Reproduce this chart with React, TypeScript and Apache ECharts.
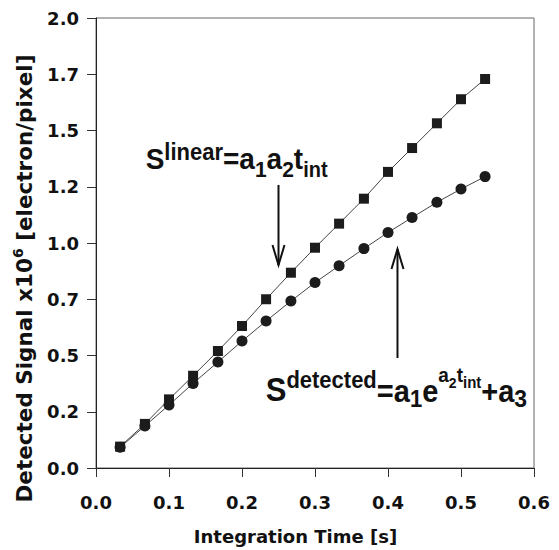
import React, { useEffect, useRef } from "react";
import * as echarts from "echarts";

// ---- data ----
const integrationTime = [0.033, 0.067, 0.1, 0.133, 0.167, 0.2, 0.233, 0.267, 0.3, 0.333, 0.367, 0.4, 0.433, 0.467, 0.5, 0.533];
const linearSignal = [0.095, 0.196, 0.305, 0.41, 0.52, 0.631, 0.75, 0.868, 0.979, 1.086, 1.197, 1.316, 1.422, 1.532, 1.639, 1.729];
const detectedSignal = [0.092, 0.187, 0.28, 0.376, 0.471, 0.564, 0.653, 0.742, 0.824, 0.899, 0.975, 1.047, 1.113, 1.181, 1.24, 1.295];
const xTickLabels = ["0.0", "0.1", "0.2", "0.3", "0.4", "0.5", "0.6"];
const yTickLabels = ["0.0", "0.2", "0.5", "0.7", "1.0", "1.2", "1.5", "1.7", "2.0"];
const xTitle = "Integration Time [s]";
const yTitleParts = ["Detected Signal x10", "6", " [electron/pixel]"];

type Piece = { t: string; size: number; dy?: number };

// annotation formulas (text pieces: size and baseline shift)
const linearFormula: Piece[] = [
  { t: "S", size: 28 },
  { t: "linear", size: 22, dy: -9 },
  { t: "=a", size: 28 },
  { t: "1", size: 21, dy: 7 },
  { t: "a", size: 28 },
  { t: "2", size: 21, dy: 7 },
  { t: "t", size: 28 },
  { t: "int", size: 20, dy: 7 },
];
const detectedFormula: Piece[] = [
  { t: "S", size: 31 },
  { t: "detected", size: 22, dy: -13 },
  { t: "=a", size: 29 },
  { t: "1", size: 22, dy: 5 },
  { t: "e", size: 29 },
  { t: "a", size: 19, dy: -18 },
  { t: "2", size: 14, dy: -13 },
  { t: "t", size: 19, dy: -18 },
  { t: "int", size: 15, dy: -13 },
  { t: "+", size: 29 },
  { t: "a", size: 29 },
  { t: "3", size: 23, dy: 5 },
];
// annotation anchors in data coordinates
const linearLabelAt = [0.068, 1.327];
const detectedLabelAt = [0.2325, 0.295];
const linearArrow = { x: 0.25, from: 1.258, to: 0.902 };
const detectedArrow = { x: 0.413, from: 0.489, to: 0.973 };

const ANN_FONT = '"Liberation Sans", Arial, sans-serif';
const AXIS_FONT = '"DejaVu Sans", sans-serif';
const INK = "#111";

let measureCtx: CanvasRenderingContext2D | null = null;
function measure(text: string, size: number, family: string) {
  if (!measureCtx) measureCtx = document.createElement("canvas").getContext("2d");
  measureCtx!.font = `bold ${size}px ${family}`;
  return measureCtx!.measureText(text).width;
}

function buildPieces(pieces: Piece[], family: string) {
  let x = 0;
  const children: any[] = [];
  for (const p of pieces) {
    const dy = p.dy || 0;
    children.push({
      type: "text",
      x,
      y: dy - 0.346 * p.size,
      style: {
        text: p.t,
        font: `bold ${p.size}px ${family}`,
        fill: INK,
        align: "left",
        verticalAlign: "middle",
      },
    });
    x += measure(p.t, p.size, family);
  }
  return { children, width: x };
}

function arrow(chart: echarts.ECharts, a: { x: number; from: number; to: number }) {
  const p0 = chart.convertToPixel({ gridIndex: 0 }, [a.x, a.from]) as number[];
  const p1 = chart.convertToPixel({ gridIndex: 0 }, [a.x, a.to]) as number[];
  const dir = p1[1] > p0[1] ? 1 : -1;
  return [
    { type: "line", shape: { x1: p0[0], y1: p0[1], x2: p1[0], y2: p1[1] }, style: { stroke: INK, lineWidth: 2 } },
    {
      type: "polyline",
      shape: { points: [[p1[0] - 6, p1[1] - dir * 20], [p1[0], p1[1]], [p1[0] + 6, p1[1] - dir * 20]] },
      style: { stroke: INK, lineWidth: 2, fill: null },
    },
  ];
}

export default function App() {
  const ref = useRef<HTMLDivElement>(null);
  useEffect(() => {
    const chart = echarts.init(ref.current!, undefined, { renderer: "svg" });
    const axisLabel = { fontFamily: AXIS_FONT, fontWeight: "bold", fontSize: 18, color: INK };
    chart.setOption({
      animation: false,
      grid: { left: 96, top: 18, right: 25, bottom: 82, show: true, borderColor: "#666", borderWidth: 1 },
      xAxis: {
        type: "value",
        min: 0,
        max: 0.6,
        interval: 0.1,
        axisLine: { show: true, onZero: false, lineStyle: { color: "#222", width: 1 } },
        axisTick: { show: true, length: 9, lineStyle: { color: "#333", width: 1 } },
        splitLine: { show: false },
        axisLabel: { ...axisLabel, margin: 25, formatter: (v: number) => xTickLabels[Math.round(v / 0.1)] },
      },
      yAxis: {
        type: "value",
        min: 0,
        max: 2,
        interval: 0.25,
        axisLine: { show: true, onZero: false, lineStyle: { color: "#222", width: 1 } },
        axisTick: { show: true, length: 9, lineStyle: { color: "#333", width: 1 } },
        splitLine: { show: false },
        axisLabel: { ...axisLabel, margin: 17, formatter: (v: number) => yTickLabels[Math.round(v / 0.25)] },
      },
      series: [
        {
          name: "linear",
          type: "line",
          data: integrationTime.map((x, i) => [x, linearSignal[i]]),
          symbol: "rect",
          symbolSize: 10,
          lineStyle: { color: "#444", width: 1 },
          itemStyle: { color: "#1c1c1c" },
        },
        {
          name: "detected",
          type: "line",
          data: integrationTime.map((x, i) => [x, detectedSignal[i]]),
          symbol: "circle",
          symbolSize: 11,
          lineStyle: { color: "#444", width: 1 },
          itemStyle: { color: "#1c1c1c" },
        },
      ],
    });

    const f1 = buildPieces(linearFormula, ANN_FONT);
    const f2 = buildPieces(detectedFormula, ANN_FONT);
    const a1 = chart.convertToPixel({ gridIndex: 0 }, linearLabelAt) as number[];
    const a2 = chart.convertToPixel({ gridIndex: 0 }, detectedLabelAt) as number[];

    const yTitle = buildPieces(
      [
        { t: yTitleParts[0], size: 21.5 },
        { t: yTitleParts[1], size: 14, dy: -9 },
        { t: yTitleParts[2], size: 21.5 },
      ],
      AXIS_FONT
    );

    chart.setOption({
      graphic: [
        { type: "group", x: a1[0], y: a1[1], scaleY: 1.08, children: f1.children },
        { type: "group", x: a2[0], y: a2[1], scaleY: 1.08, children: f2.children },
        ...arrow(chart, linearArrow),
        ...arrow(chart, detectedArrow),
        { type: "group", x: 32.3, y: 278.5 + yTitle.width / 2, rotation: Math.PI / 2, children: yTitle.children },
        {
          type: "text",
          x: 295.5,
          y: 536,
          style: { text: xTitle, font: `bold 18px ${AXIS_FONT}`, fill: INK, align: "center", verticalAlign: "middle" },
        },
      ],
    });

    return () => chart.dispose();
  }, []);
  return <div ref={ref} style={{ position: "absolute", left: 0, top: 0, width: 559, height: 550 }} />;
}
